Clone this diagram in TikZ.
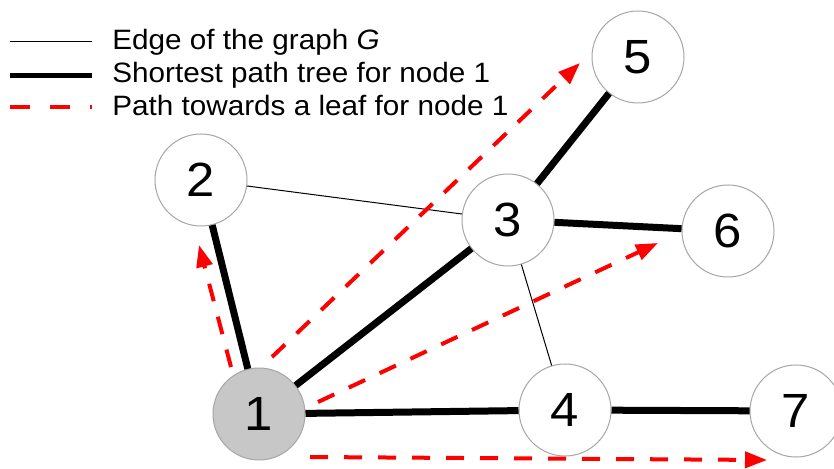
\documentclass[tikz,border=0pt]{standalone}
\usepackage{fontspec}
\setmainfont{Liberation Sans}[FakeStretch=1.06]
\usetikzlibrary{arrows.meta}
\tikzset{>={Triangle[length=11pt,width=8pt]}}

\begin{document}
\begin{tikzpicture}[x=0.5pt, y=-0.5pt,
    vertex/.style={circle, draw=black!35, line width=0.5pt, fill=white, minimum size=46pt, inner sep=0pt, font=\fontsize{24}{24}\selectfont},
    root/.style={vertex, fill=black!22},
    edge/.style={line width=0.5pt},
    tree/.style={line width=3.5pt},
    leaf/.style={->, red, line width=2pt, dash pattern=on 9pt off 8pt},
    legend/.style={anchor=base west, inner sep=0pt, font=\fontsize{14}{17}\selectfont}
  ]
    \useasboundingbox (0,0) rectangle (834,469);

    % legend
    \draw[edge] (10,42) -- (92,42);
    \draw[line width=2.5pt] (10,76) -- (92,76);
    \draw[red, line width=2.2pt, dash pattern=on 10pt off 10pt] (10,107) -- (92,107);
    \node[legend] (l1) at (112,50)  {Edge of the graph \textit{G}};
    \node[legend] (l2) at (112,83)  {Shortest path tree for node 1};
    \node[legend] (l3) at (112,116) {Path towards a leaf for node 1};

    % graph
    \node[root]   (n1) at (259,414) {1};
    \node[vertex] (n2) at (201,180) {2};
    \node[vertex] (n3) at (508,220) {3};
    \node[vertex] (n4) at (565,410) {4};
    \node[vertex] (n5) at (638,57)  {5};
    \node[vertex] (n6) at (728,231) {6};
    \node[vertex] (n7) at (796,411) {7};

    \draw[edge] (n2) -- (n3);
    \draw[edge] (n3) -- (n4);
    \foreach \a/\b in {n1/n2, n1/n3, n3/n5, n3/n6, n1/n4, n4/n7}
      \draw[tree] (\a) -- (\b);

    % paths towards the leaves
    \coordinate (s2) at (231,367); \coordinate (t2) at (199,245);
    \coordinate (s5) at (272,357); \coordinate (t5) at (580,63);
    \coordinate (s6) at (318,402); \coordinate (t6) at (658,243);
    \coordinate (s7) at (310,457); \coordinate (t7) at (767,460);
    \foreach \n in {2,5,6,7} \draw[leaf] (s\n) -- (t\n);
  \end{tikzpicture}
\end{document}
